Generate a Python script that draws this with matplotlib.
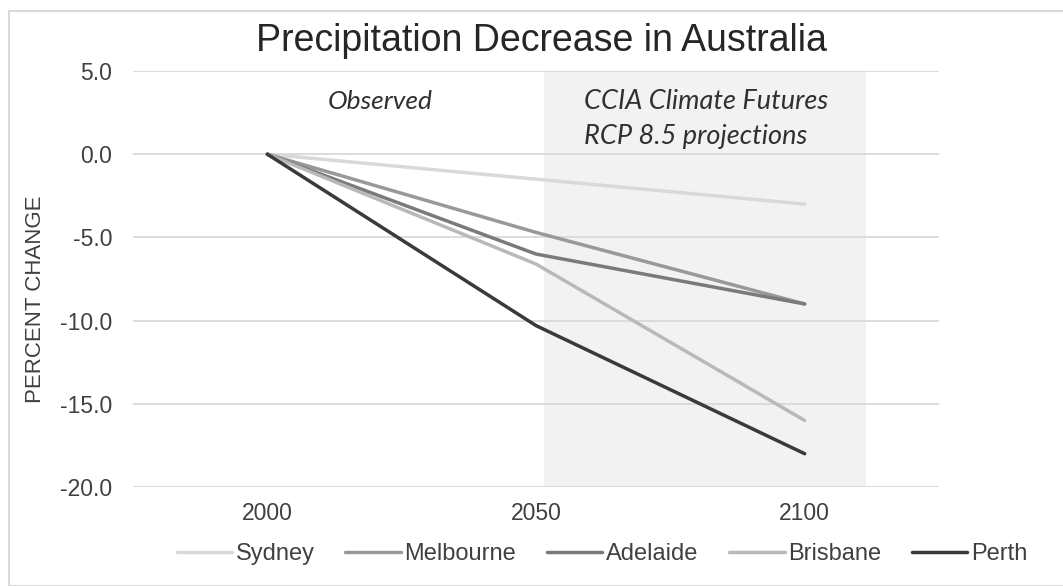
import matplotlib
matplotlib.use("Agg")
import matplotlib.pyplot as plt
from matplotlib.patches import Rectangle

years = ["2000", "2050", "2100"]
sydney = [0.0, -1.5, -3.0]
melbourne = [0.0, -4.7, -9.0]
adelaide = [0.0, -6.0, -9.0]
brisbane = [0.0, -6.6, -16.0]
perth = [0.0, -10.3, -18.0]
series_names = ["Sydney", "Melbourne", "Adelaide", "Brisbane", "Perth"]
series_vals = [sydney, melbourne, adelaide, brisbane, perth]
series_colors = ["#d9d9d9", "#999999", "#7a7a7a", "#b9b9b9", "#3a3a3a"]
yticks = [5.0, 0.0, -5.0, -10.0, -15.0, -20.0]

plt.rcParams['font.family'] = ['Liberation Sans', 'DejaVu Sans']

W, H = 1063, 586
fig = plt.figure(figsize=(W/100, H/100), dpi=100)
ax = fig.add_axes([133/W, 1-487/H, (939-133)/W, (487-71)/H])

x = list(range(len(years)))
ax.set_xlim(-0.5, 2.5)
ax.set_ylim(-20, 5)

# shaded projection region
ax.axvspan(1.03, 2.23, ymin=0, ymax=1, color="#f2f2f2", zorder=0, lw=0)

for yv in yticks:
    ax.axhline(yv, color="#d9d9d9", lw=1.3, zorder=1)

for name, vals, c in zip(series_names, series_vals, series_colors):
    ax.plot(x, vals, color=c, lw=2.5, label=name, zorder=3, solid_capstyle='round')

ax.set_xticks(x)
ax.set_xticklabels(years, fontsize=16.5, color="#404040")
ax.set_yticks(yticks)
ax.set_yticklabels([f"{v:.1f}" for v in yticks], fontsize=16.5, color="#404040")
ax.tick_params(length=0)
ax.tick_params(axis='y', pad=15)
ax.tick_params(axis='x', pad=11)
for s in ax.spines.values():
    s.set_visible(False)

ax.set_ylabel("PERCENT CHANGE", fontsize=16, color="#404040")
ax.yaxis.set_label_coords((46-133)/(939-133), (487-299)/(487-71))

fig.text(541/W, 1-41/H, "Precipitation Decrease in Australia", fontsize=27,
         ha="center", va="center", color="#262626")

ital = ["Lato", "DejaVu Sans"]
ax.text(0.42, 3.18, "Observed", fontstyle="italic", family=ital,
        fontsize=19, ha="center", va="center", color="#303030")
ax.text(1.18, 3.18, "CCIA Climate Futures", fontstyle="italic", family=ital,
        fontsize=19.5, ha="left", va="center", color="#303030")
ax.text(1.18, 1.08, "RCP 8.5 projections", fontstyle="italic", family=ital,
        fontsize=19.5, ha="left", va="center", color="#303030")

leg = fig.legend(loc="center", bbox_to_anchor=(602/W, 1-554/H), ncol=5, frameon=False,
                 fontsize=17, handlelength=2.35, handletextpad=0.15, columnspacing=1.3)
for t in leg.get_texts():
    t.set_color("#404040")

fig.patches.append(Rectangle((9/W, 0), 1.2, 1-11/H, transform=fig.transFigure,
                             fill=False, edgecolor="#d9d9d9", lw=1.5))

fig.savefig("out.png", dpi=100)
